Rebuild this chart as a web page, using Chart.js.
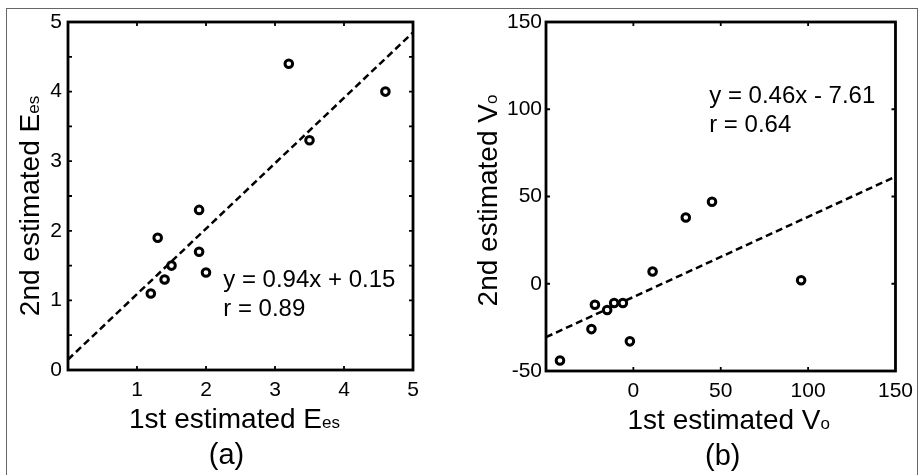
<!DOCTYPE html>
<html lang="en">
<head>
  <meta charset="UTF-8">
  <title>Estimated E_es and V_o, 1st vs 2nd</title>
  <script src="https://cdn.jsdelivr.net/npm/chart.js"></script>
  <style>
    body {
      margin: 0;
      background: #fff;
      width: 921px;
      height: 475px;
      overflow: hidden;
      position: relative;
      font-family: "Liberation Sans", Arial, sans-serif;
    }
    .frame {
      position: absolute;
      left: 6px;
      top: 8px;
      width: 910px;
      height: 500px;
      border: 1px solid #666;
      border-bottom: none;
    }
    .panel {
      position: absolute;
      top: 0;
    }
  </style>
</head>
<body>
  <div class="frame"></div>
  <canvas id="chartA" class="panel" width="460" height="475" style="left:0"></canvas>
  <canvas id="chartB" class="panel" width="461" height="475" style="left:460px"></canvas>

  <script>
    // panel (a): elastic estimate, first vs second run
    const esFirst  = [1.2, 1.3, 1.4, 1.5, 1.9, 1.9, 2.0, 3.2, 3.5, 4.6];
    const esSecond = [1.1, 1.9, 1.3, 1.5, 2.3, 1.7, 1.4, 4.4, 3.3, 4.0];
    const esSlope = 0.94;
    const esIntercept = 0.15;
    const esR = 0.89;

    // panel (b): V0 estimate, first vs second run
    const voFirst  = [-42, -24, -22, -15, -11, -6, -2, 11, 30, 45, 96];
    const voSecond = [-44, -26, -12, -15, -11, -11, -33, 7, 38, 47, 2];
    const voSlope = 0.46;
    const voIntercept = -7.61;
    const voR = 0.64;

    const FONT = '"Liberation Sans", Arial, sans-serif';

    function pairs(xs, ys) {
      return xs.map((x, i) => ({ x: x, y: ys[i] }));
    }

    function fitLine(slope, intercept, lo, hi) {
      return [
        { x: lo, y: slope * lo + intercept },
        { x: hi, y: slope * hi + intercept }
      ];
    }

    function fmtEq(slope, intercept) {
      const sign = intercept < 0 ? ' - ' : ' + ';
      return 'y = ' + slope.toFixed(2) + 'x' + sign + Math.abs(intercept).toFixed(2);
    }

    // draws a label made of [text, size] parts, with smaller parts sitting on the baseline
    function partsWidth(ctx, parts) {
      let w = 0;
      parts.forEach(p => {
        ctx.font = p[1] + 'px ' + FONT;
        w += ctx.measureText(p[0]).width;
      });
      return w;
    }
    function drawParts(ctx, parts, x, y) {
      ctx.textAlign = 'left';
      ctx.textBaseline = 'alphabetic';
      parts.forEach(p => {
        ctx.font = p[1] + 'px ' + FONT;
        ctx.fillText(p[0], x, y);
        x += ctx.measureText(p[0]).width;
      });
    }

    // inward tick marks on all four sides + heavy box
    const boxPlugin = {
      id: 'boxTicks',
      afterDatasetsDraw(chart) {
        const ctx = chart.ctx;
        const a = chart.chartArea;
        const xs = chart.scales.x, ys = chart.scales.y;
        const len = 4;
        ctx.save();
        ctx.strokeStyle = '#000';
        ctx.lineWidth = 1.8;
        ctx.beginPath();
        xs.ticks.forEach(t => {
          if (t.value <= xs.min || t.value >= xs.max) return;
          const px = xs.getPixelForValue(t.value);
          ctx.moveTo(px, a.bottom); ctx.lineTo(px, a.bottom - len);
          ctx.moveTo(px, a.top); ctx.lineTo(px, a.top + len);
        });
        ys.ticks.forEach(t => {
          if (t.value <= ys.min || t.value >= ys.max) return;
          const py = ys.getPixelForValue(t.value);
          ctx.moveTo(a.left, py); ctx.lineTo(a.left + len, py);
          ctx.moveTo(a.right, py); ctx.lineTo(a.right - len, py);
        });
        ctx.stroke();
        ctx.lineWidth = 2.8;
        ctx.strokeRect(a.left, a.top, a.right - a.left, a.bottom - a.top);
        ctx.restore();
      }
    };

    // axis titles with subscripts, fit equation and panel tag
    const textPlugin = {
      id: 'panelText',
      afterDraw(chart, args, opts) {
        const ctx = chart.ctx;
        const a = chart.chartArea;
        const xs = chart.scales.x, ys = chart.scales.y;
        ctx.save();
        ctx.fillStyle = '#000';

        // x title
        let w = partsWidth(ctx, opts.xTitle);
        drawParts(ctx, opts.xTitle, (a.left + a.right) / 2 + opts.xTitleShift - w / 2, a.bottom + 58);

        // y title, rotated
        w = partsWidth(ctx, opts.yTitle);
        ctx.save();
        ctx.translate(a.left - opts.yTitleGap, (a.top + a.bottom) / 2 + opts.yTitleShift);
        ctx.rotate(-Math.PI / 2);
        drawParts(ctx, opts.yTitle, -w / 2, 0);
        ctx.restore();

        // equation and correlation
        const ex = xs.getPixelForValue(opts.eqAt[0]);
        const ey = ys.getPixelForValue(opts.eqAt[1]);
        drawParts(ctx, [[opts.eq, 24]], ex, ey);
        drawParts(ctx, [[opts.r, 24]], ex, ey + 29);

        // panel tag
        ctx.font = '29px ' + FONT;
        ctx.textAlign = 'center';
        ctx.textBaseline = 'middle';
        ctx.fillText(opts.tag, (a.left + a.right) / 2 + opts.tagShift, a.bottom + 86);
        ctx.restore();
      }
    };

    function makePanel(canvasId, cfg) {
      return new Chart(document.getElementById(canvasId), {
        data: {
          datasets: [
            {
              type: 'scatter',
              data: pairs(cfg.xs, cfg.ys),
              pointRadius: 3.8,
              pointBorderWidth: 3,
              pointBorderColor: '#000',
              pointBackgroundColor: '#fff'
            },
            {
              type: 'line',
              data: fitLine(cfg.slope, cfg.intercept, cfg.xMin, cfg.xMax),
              borderColor: '#000',
              borderWidth: 2.5,
              borderDash: [7, 4],
              pointRadius: 0,
              fill: false
            }
          ]
        },
        options: {
          responsive: false,
          animation: false,
          layout: { padding: { top: 22, left: 0, right: cfg.padRight, bottom: 0 } },
          plugins: {
            legend: { display: false },
            tooltip: { enabled: false },
            panelText: cfg.text
          },
          scales: {
            x: {
              type: 'linear',
              min: cfg.xMin, max: cfg.xMax,
              grid: { display: false, drawTicks: false },
              border: { display: false },
              ticks: {
                stepSize: cfg.xStep,
                padding: 8,
                color: '#000',
                font: { family: FONT, size: 21 },
                callback: v => (v === cfg.xMin ? '' : v)
              },
              afterFit: s => { s.height = cfg.xAxisH; }
            },
            y: {
              type: 'linear',
              min: cfg.yMin, max: cfg.yMax,
              grid: { display: false, drawTicks: false },
              border: { display: false },
              ticks: {
                stepSize: cfg.yStep,
                padding: cfg.yPad,
                color: '#000',
                font: { family: FONT, size: 21 },
                callback: v => (Number.isInteger(v) ? v : '')
              },
              afterFit: s => { s.width = cfg.yAxisW; }
            }
          }
        },
        plugins: [boxPlugin, textPlugin]
      });
    }

    makePanel('chartA', {
      xs: esFirst, ys: esSecond,
      slope: esSlope, intercept: esIntercept,
      xMin: 0, xMax: 5, xStep: 1,
      yMin: 0, yMax: 5, yStep: 0.5,
      yAxisW: 68, xAxisH: 105, padRight: 47, yPad: 6,
      text: {
        xTitle: [['1st estimated E', 28], ['es', 17]],
        xTitleShift: -6,
        yTitle: [['2nd estimated E', 28], ['es', 17]],
        yTitleGap: 29, yTitleShift: 10,
        eq: fmtEq(esSlope, esIntercept),
        r: 'r = ' + esR.toFixed(2),
        eqAt: [2.25, 1.19],
        tag: '(a)', tagShift: -14
      }
    });

    makePanel('chartB', {
      xs: voFirst, ys: voSecond,
      slope: voSlope, intercept: voIntercept,
      xMin: -50, xMax: 150, xStep: 50,
      yMin: -50, yMax: 150, yStep: 50,
      yAxisW: 86, xAxisH: 104, padRight: 24, yPad: 4,
      text: {
        xTitle: [['1st estimated V', 28], ['o', 17]],
        xTitleShift: 8,
        yTitle: [['2nd estimated V', 28], ['o', 17]],
        yTitleGap: 49, yTitleShift: 4,
        eq: fmtEq(voSlope, voIntercept),
        r: 'r = ' + voR.toFixed(2),
        eqAt: [43.4, 103.6],
        tag: '(b)', tagShift: 2
      }
    });
  </script>
</body>
</html>
